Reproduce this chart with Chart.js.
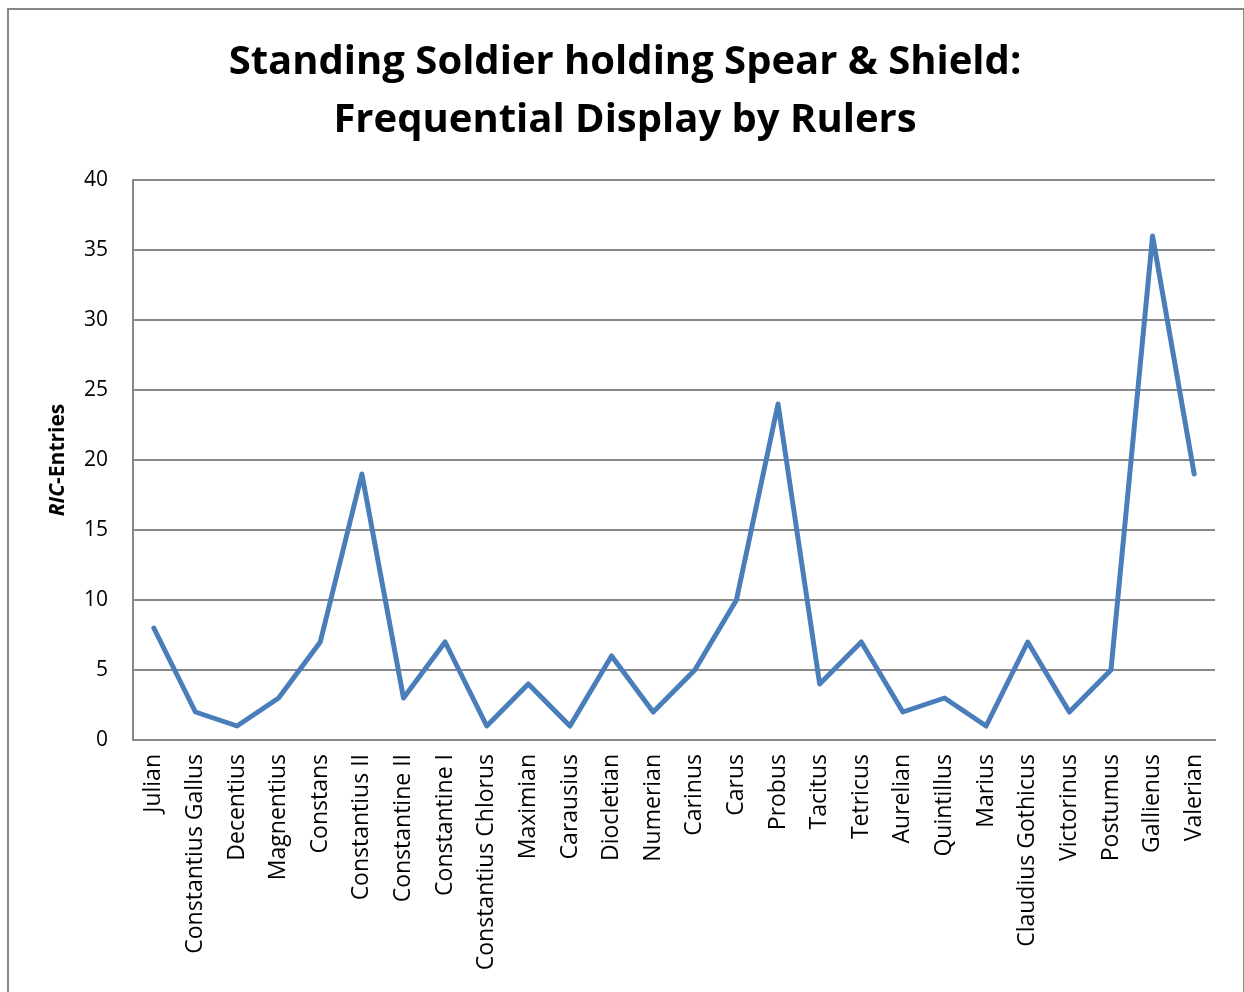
<!DOCTYPE html>
<html>
<head>
<meta charset="utf-8">
<script src="https://cdn.jsdelivr.net/npm/chart.js@4"></script>
<style>
  html, body { margin: 0; padding: 0; background: #fff; overflow: hidden; }
  #frame { position: absolute; left: 7px; top: 8px; width: 1234px; height: 1000px; border: 2px solid #888; }
  #wrap { position: absolute; left: 0; top: 0; width: 1244px; height: 992px; }
</style>
</head>
<body>
<div id="frame"></div>
<div id="wrap"><canvas id="chart"></canvas></div>
<script>
// ── data ──
const rulers = ['Julian', 'Constantius Gallus', 'Decentius', 'Magnentius', 'Constans', 'Constantius II',
    'Constantine II', 'Constantine I', 'Constantius Chlorus', 'Maximian', 'Carausius', 'Diocletian',
    'Numerian', 'Carinus', 'Carus', 'Probus', 'Tacitus', 'Tetricus', 'Aurelian', 'Quintillus', 'Marius',
    'Claudius Gothicus', 'Victorinus', 'Postumus', 'Gallienus', 'Valerian'];
const ricEntries = [8, 2, 1, 3, 7, 19, 3, 7, 1, 4, 1, 6, 2, 5, 10, 24, 4, 7, 2, 3, 1, 7, 2, 5, 36, 19];
const titleLines = ['Standing Soldier holding Spear & Shield:', 'Frequential Display by Rulers'];
const yTicks = [0, 5, 10, 15, 20, 25, 30, 35, 40];

const FONT = '"Open Sans", Lato, sans-serif';
const gridColor = '#888888';

// y-axis title with italic "RIC" part
const yTitlePlugin = {
    id: 'yTitle',
    afterDraw(chart) {
        const { ctx, chartArea } = chart;
        const cy = (chartArea.top + chartArea.bottom) / 2;
        ctx.save();
        ctx.translate(58, cy);
        ctx.rotate(-Math.PI / 2);
        ctx.fillStyle = '#000';
        ctx.textBaseline = 'middle';
        const a = 'RIC', b = '-Entries';
        ctx.font = 'italic bold 21px ' + FONT;
        const wa = ctx.measureText(a).width;
        ctx.font = 'bold 21px ' + FONT;
        const wb = ctx.measureText(b).width;
        let x = -(wa + wb) / 2;
        ctx.font = 'italic bold 21px ' + FONT;
        ctx.textAlign = 'left';
        ctx.fillText(a, x, 0);
        ctx.font = 'bold 21px ' + FONT;
        ctx.fillText(b, x + wa, 0);
        ctx.restore();
    }
};

new Chart(document.getElementById('chart'), {
    type: 'line',
    data: {
        labels: rulers,
        datasets: [{
            data: ricEntries,
            borderColor: '#4a7ebb',
            borderWidth: 5,
            pointRadius: 0,
            tension: 0,
            fill: false,
            borderJoinStyle: 'round',
            borderCapStyle: 'round'
        }]
    },
    options: {
        responsive: true, maintainAspectRatio: false, animation: false,
        layout: { padding: { top: 0, left: 35, right: 29, bottom: 0 } },
        plugins: {
            legend: { display: false },
            tooltip: { enabled: false },
            title: {
                display: true,
                text: titleLines,
                color: '#000',
                font: { family: FONT, size: 40, weight: 'bold', lineHeight: 1.45 },
                padding: { top: 34, bottom: 30 }
            }
        },
        scales: {
            x: {
                offset: true,
                grid: { display: false, drawTicks: false },
                border: { color: gridColor, width: 2 },
                ticks: {
                    color: '#000', font: { family: FONT, size: 23 },
                    minRotation: 90, maxRotation: 90, autoSkip: false, padding: 14
                },
                afterFit(scale) { scale.height = 252; }
            },
            y: {
                min: 0, max: 40,
                afterBuildTicks(scale) { scale.ticks = yTicks.map(v => ({ value: v })); },
                grid: { color: gridColor, lineWidth: 2, drawTicks: false },
                border: { color: gridColor, width: 2 },
                ticks: { color: '#000', font: { family: FONT, size: 21 }, padding: 25 },
                afterFit(scale) { scale.width = 98; }
            }
        }
    },
    plugins: [yTitlePlugin]
});
</script>
</body>
</html>
